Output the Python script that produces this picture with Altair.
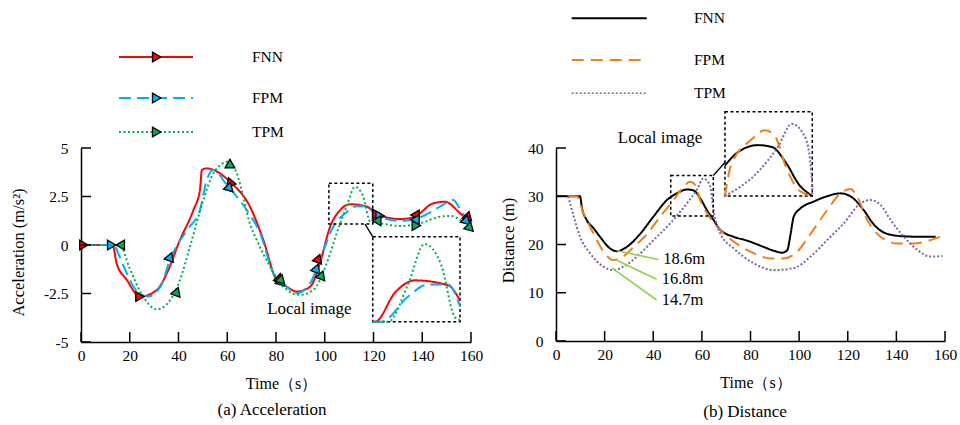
import altair as alt
import pandas as pd

FONT = "Liberation Serif, Times New Roman, DejaVu Serif, serif"
SERIES = ["FNN", "FPM", "TPM"]

# ---------------- (a) Acceleration data ----------------
acc_t_fnn = [0, 13, 14.6, 18.8, 24.2, 31.1, 35.2, 40.6, 46.1, 48.8, 49.6, 51.6, 57, 61.1, 69.3, 74.8,
             80.2, 84.4, 88.5, 94, 98, 102.2, 106.3, 110.4, 117.2, 121.3, 130.9, 136.4, 144.6, 149.4,
             155.6, 159.7]
acc_fnn = [0, 0, -0.94, -1.8, -2.66, -2.32, -1.46, 0.26, 1.8, 2.84, 3.87, 3.95, 3.69, 3.26, 1.98, 0.26,
           -1.8, -2.15, -2.4, -2.15, -0.94, 0.94, 1.8, 2.1, 1.98, 1.6, 1.34, 1.43, 2.15, 2.23, 1.63, 1.2]

acc_t_fpm = [0, 13.5, 15.5, 18.8, 22, 27.4, 32.6, 36.7, 43.5, 48.8, 51.6, 54.3, 59.8, 68, 73.5, 78.9,
             84.4, 88.5, 94, 98, 103.5, 109, 113, 117.2, 122.7, 130.9, 139.1, 147.3, 152.8, 154.9, 158.3]
acc_fpm = [0, 0, -0.5, -1.46, -2.23, -2.66, -2.15, -0.69, 0.77, 1.8, 3.35, 3.87, 3.1, 1.8, 0.6, -1.46,
           -2.15, -2.49, -1.97, -0.77, 0.94, 1.7, 2.0, 2.0, 1.46, 1.24, 1.43, 1.98, 2.32, 1.98, 1.29]

acc_t_tpm = [0, 16, 19.7, 25.5, 31.1, 36.6, 40.6, 44.7, 50.2, 54.3, 60.5, 63.9, 66.6, 68.8, 72.1, 77.6,
             83, 89.8, 95.3, 100.8, 104.9, 109, 112.4, 115.8, 118.6, 122.7, 130.9, 139.1, 147.3, 151.4,
             155.6, 159.7]
acc_tpm = [0, 0, -1.12, -2.66, -3.32, -2.84, -1.8, -0.09, 2.32, 3.69, 4.3, 3.69, 2.5, 1.3, 0.26, -1.12,
           -2.15, -2.57, -2.32, -0.94, 0.6, 2.01, 3.0, 2.49, 1.2, 1.12, 0.98, 1.12, 1.46, 1.5, 1.29, 0.86]

# triangle markers on the curves
mk_t_fnn = [1.2, 24.2, 61.1, 81.6, 97.4, 121.3, 137, 159]
mk_fnn = [0, -2.66, 3.26, -1.8, -0.69, 1.6, 1.55, 1.4]
mk_ang_fnn = [0, 0, 250, 45, 290, 0, 180, 45]
mk_t_fpm = [12.6, 36.6, 61.1, 82.3, 96.7, 122.7, 137, 158.3]
mk_fpm = [0, -0.6, 2.9, -1.95, -1.2, 1.5, 1.3, 1.2]
mk_ang_fpm = [0, 290, 45, 45, 290, 0, 180, 45]
mk_t_tpm = [16.1, 39.3, 61.1, 82.3, 98.7, 121.3, 137.6, 159.7]
mk_tpm = [0, -2.4, 4.2, -1.85, -1.55, 1.25, 1.0, 0.86]
mk_ang_tpm = [180, 290, 270, 45, 290, 180, 0, 45]

# ---------------- (b) Distance data ----------------
dist_t_fnn = [0, 9.9, 10.6, 12.6, 15.4, 18.1, 22.2, 25, 29.1, 34.6, 40.1, 45.6, 49.7, 53.8, 56.6, 59.3,
              62.1, 64.8, 67.6, 73.1, 78.6, 85.4, 89.6, 93, 95.1, 96.5, 97.8, 100.6, 106, 111.5, 117,
              121.1, 126.6, 130.8, 136.3, 143.1, 150, 156.2]
dist_fnn = [30, 30, 27.8, 25.1, 23.4, 21.6, 19.2, 18.6, 19.5, 22.2, 25.8, 29.2, 30.6, 31.4, 31.2, 29.6,
            27.1, 25.1, 23.0, 21.6, 20.8, 19.5, 18.7, 18.3, 18.8, 22.2, 25.8, 27.5, 28.9, 30, 30.6,
            30, 27.1, 24.1, 22.2, 21.7, 21.6, 21.6]

dist_t_fpm = [5, 8.5, 11.3, 15.4, 19.6, 23.5, 26.3, 32, 37.5, 42.9, 48.4, 52.5, 55.2, 57.3, 59.3, 62.1,
              66.2, 73.1, 81.3, 88.2, 93.7, 99.2, 104.7, 111.5, 117, 121.1, 123.8, 128, 133.5, 140.3,
              147.2, 154, 158]
dist_fpm = [30, 30, 26.5, 22.3, 18.5, 16.8, 17.1, 19.5, 22.2, 25.8, 29.2, 32, 33, 32.3, 29.2, 26.5,
            23.7, 20.6, 18.2, 17.1, 17.1, 18.5, 22.2, 27.1, 30.6, 31.5, 30, 25.1, 21.6, 20.2,
            20.2, 20.9, 21.6]

dist_t_tpm = [5, 7.3, 9.9, 14, 19.5, 23.7, 27.8, 33.3, 40.1, 47, 53.8, 57.9, 60.6, 63.4, 64.8, 67.6,
              73.1, 81.3, 89.6, 97.8, 104.7, 111.5, 118.4, 125.2, 129.4, 133.5, 137.6, 143.1, 148.6,
              154, 158.9]
dist_tpm = [30, 25.8, 21.6, 18.2, 15.4, 14.7, 15.4, 17.5, 20.9, 24.4, 28.5, 31.3, 33.7, 32.1, 27.1, 22.2,
            19.2, 16.1, 14.7, 15.1, 17.5, 20.9, 24.4, 28.5, 29.2, 28.2, 25.1, 21.6, 18.9,
            17.5, 17.6]

x_ticks = [0, 20, 40, 60, 80, 100, 120, 140, 160]
acc_ticks = [-5, -2.5, 0, 2.5, 5]
dist_ticks = [0, 10, 20, 30, 40]
min_labels = ["18.6m", "16.8m", "14.7m"]

# ---------------- styles / layout (not data) ----------------
acc_colors = ["#ff0000", "#00b0f0", "#00b050"]
acc_dash = [[1, 0], [12, 6], [2, 2.5]]
dist_colors = ["#000000", "#f07f1a", "#8064a2"]
dist_dash = [[1, 0], [12, 7], [2, 2]]
W1, H1 = 390, 194
W2, H2 = 389, 193
BOX_DASH = [3, 2.5]


def long_df(ts, vs):
    rows = []
    for s, tl, vl in zip(SERIES, ts, vs):
        for t, v in zip(tl, vl):
            rows.append({"series": s, "t": t, "v": v})
    return pd.DataFrame(rows)


def marker_df(ts, vs, angs):
    rows = []
    for s, tl, vl, al in zip(SERIES, ts, vs, angs):
        for t, v, a in zip(tl, vl, al):
            rows.append({"series": s, "t": t, "v": v, "ang": a})
    return pd.DataFrame(rows)


ONE = pd.DataFrame({"k": [0]})


def make_axes(W, H, ytitle, ytx, yty, yvals):
    xa = alt.Axis(values=x_ticks, ticks=False, tickSize=0, grid=False, domainColor="black",
                  domainWidth=1.5, labelFont=FONT, labelFontSize=15.5, labelColor="black",
                  labelPadding=6, labelFlush=False, labelOverlap=False,
                  title="Time（s）", titleFont=FONT, titleFontSize=16, titleFontWeight="normal",
                  titleColor="black", titleX=W / 2 + 5, titleY=41, titleBaseline="middle",
                  titleAlign="center")
    ya = alt.Axis(values=yvals, ticks=False, tickSize=0, grid=False, domainColor="black",
                  domainWidth=1.5, labelFont=FONT, labelFontSize=15.5, labelColor="black",
                  labelPadding=13, labelExpr='datum.value + ""', labelOverlap=False,
                  labelFlush=False,
                  title=ytitle, titleFont=FONT, titleFontSize=16.5, titleFontWeight="normal",
                  titleColor="black", titleX=ytx, titleY=yty, titleAngle=270,
                  titleAlign="center", titleBaseline="middle")
    return xa, ya


def panel(df, mk, W, H, ydom, yvals, ytitle, ytx, yty, colors, dashes, widths,
          src_box, ins_box, ins_vdom, connector, legend_pos, legend_marker, local_pos, caption,
          notes=None, anchor=False):
    xa, ya = make_axes(W, H, ytitle, ytx, yty, yvals)
    xs = alt.Scale(domain=[0, 160], nice=False, zero=False)
    ys = alt.Scale(domain=ydom, nice=False, zero=False)
    cs = alt.Scale(domain=SERIES, range=colors)
    ds = alt.Scale(domain=SERIES, range=dashes)
    ws = alt.Scale(domain=SERIES, range=widths)

    layers = []
    layers.append(
        alt.Chart(df).mark_line(interpolate="monotone").encode(
            x=alt.X("t:Q", scale=xs, axis=xa),
            y=alt.Y("v:Q", scale=ys, axis=ya),
            color=alt.Color("series:N", scale=cs, legend=None),
            strokeDash=alt.StrokeDash("series:N", scale=ds, legend=None),
            strokeWidth=alt.StrokeWidth("series:N", scale=ws, legend=None),
        )
    )
    if mk is not None:
        layers.append(
            alt.Chart(mk).mark_point(shape="triangle-right", filled=True, size=95, stroke="black",
                                     strokeWidth=1.3, opacity=1).encode(
                x=alt.X("t:Q", scale=xs, axis=xa),
                y=alt.Y("v:Q", scale=ys, axis=ya),
                fill=alt.Fill("series:N", scale=cs, legend=None),
                angle=alt.Angle("ang:Q", scale=None),
            )
        )
    # inward ticks
    layers.append(
        alt.Chart(pd.DataFrame({"t": x_ticks})).mark_rule(color="black", strokeWidth=1.5).encode(
            x=alt.X("t:Q", scale=xs, axis=xa), y=alt.value(H), y2=alt.value(H - 10))
    )
    layers.append(
        alt.Chart(pd.DataFrame({"v": yvals})).mark_rule(color="black", strokeWidth=1.5).encode(
            y=alt.Y("v:Q", scale=ys, axis=ya), x=alt.value(0), x2=alt.value(10))
    )
    # dashed boxes
    for (t0, t1, v0, v1) in [src_box, ins_box]:
        layers.append(
            alt.Chart(pd.DataFrame({"t": [t0], "t2": [t1], "v": [v0], "v2": [v1]})).mark_rect(
                fillOpacity=0, stroke="black", strokeWidth=1.5, strokeDash=BOX_DASH).encode(
                x=alt.X("t:Q", scale=xs, axis=xa), x2="t2:Q",
                y=alt.Y("v:Q", scale=ys, axis=ya), y2="v2:Q")
        )
    (ct0, cv0, ct1, cv1) = connector
    layers.append(
        alt.Chart(pd.DataFrame({"t": [ct0], "t2": [ct1], "v": [cv0], "v2": [cv1]})).mark_rule(
            color="black", strokeWidth=1.3).encode(
            x=alt.X("t:Q", scale=xs, axis=xa), x2="t2:Q",
            y=alt.Y("v:Q", scale=ys, axis=ya), y2="v2:Q")
    )
    # "Local image"
    layers.append(
        alt.Chart(pd.DataFrame({"t": [local_pos[0]], "v": [local_pos[1]], "s": ["Local image"]}))
        .mark_text(font=FONT, fontSize=17, color="black", align="center", baseline="middle")
        .encode(x=alt.X("t:Q", scale=xs, axis=xa), y=alt.Y("v:Q", scale=ys, axis=ya), text="s:N")
    )
    # min annotations
    if notes is not None:
        nt0, nv0, nt1, nv1 = notes
        ndf = pd.DataFrame({"t": nt0, "v": nv0, "t2": nt1, "v2": nv1, "s": min_labels})
        layers.append(
            alt.Chart(ndf).mark_rule(color="#92d050", strokeWidth=1.6).encode(
                x=alt.X("t:Q", scale=xs, axis=xa), x2="t2:Q",
                y=alt.Y("v:Q", scale=ys, axis=ya), y2="v2:Q")
        )
        layers.append(
            alt.Chart(ndf).mark_text(font=FONT, fontSize=16.5, color="black", align="left",
                                     baseline="middle", dx=5).encode(
                x=alt.X("t2:Q", scale=xs, axis=xa),
                y=alt.Y("v2:Q", scale=ys, axis=ya), text="s:N")
        )
    # custom legend
    lx0, lx1, ltx, lys = legend_pos
    for s, c, d, w, ly in zip(SERIES, colors, dashes, widths, lys):
        layers.append(
            alt.Chart(ONE).mark_rule(color=c, strokeDash=d, strokeWidth=w).encode(
                x=alt.value(lx0), x2=alt.value(lx1), y=alt.value(ly))
        )
        if legend_marker is not None:
            layers.append(
                alt.Chart(ONE).mark_point(shape="triangle-right", filled=True, size=95,
                                          fill=c, stroke="black", strokeWidth=1.3, opacity=1)
                .encode(x=alt.value(legend_marker), y=alt.value(ly))
            )
        layers.append(
            alt.Chart(pd.DataFrame({"s": [s]})).mark_text(font=FONT, fontSize=15.5, color="black",
                                                          align="left", baseline="middle")
            .encode(x=alt.value(ltx), y=alt.value(ly), text="s:N")
        )
    # caption
    layers.append(
        alt.Chart(pd.DataFrame({"s": [caption[0]]})).mark_text(font=FONT, fontSize=17, color="black",
                                                               align="center", baseline="middle")
        .encode(x=alt.value(caption[1]), y=alt.value(caption[2]), text="s:N")
    )
    if anchor:
        layers.append(
            alt.Chart(ONE).mark_rect(opacity=0).encode(
                x=alt.value(-81), x2=alt.value(-80), y=alt.value(-148), y2=alt.value(-147))
        )
    main = alt.layer(*layers)

    # magnified inset drawn through its own scales
    t0, t1, v0, v1 = src_box
    it0, it1, iv0, iv1 = ins_box
    xr = [it0 / 160 * W, it1 / 160 * W]
    lo_iv, hi_iv = min(iv0, iv1), max(iv0, iv1)
    yr = [(ydom[1] - lo_iv) / (ydom[1] - ydom[0]) * H, (ydom[1] - hi_iv) / (ydom[1] - ydom[0]) * H]
    inset = alt.Chart(df).transform_filter(
        alt.FieldRangePredicate(field="t", range=[t0 - 5, t1 + 5])
    ).mark_line(interpolate="monotone").encode(
        x=alt.X("t:Q", scale=alt.Scale(domain=[t0, t1], range=xr, clamp=True, nice=False, zero=False),
                axis=None),
        y=alt.Y("v:Q", scale=alt.Scale(domain=ins_vdom, range=yr, clamp=True, nice=False,
                                       zero=False), axis=None),
        color=alt.Color("series:N", scale=cs, legend=None),
        strokeDash=alt.StrokeDash("series:N", scale=ds, legend=None),
        strokeWidth=alt.StrokeWidth("series:N", scale=ws, legend=None),
    )
    return alt.layer(main, inset).resolve_scale(x="independent", y="independent").properties(
        width=W, height=H)


acc_df = long_df([acc_t_fnn, acc_t_fpm, acc_t_tpm], [acc_fnn, acc_fpm, acc_tpm])
acc_mk = marker_df([mk_t_fnn, mk_t_fpm, mk_t_tpm], [mk_fnn, mk_fpm, mk_tpm],
                   [mk_ang_fnn, mk_ang_fpm, mk_ang_tpm])
dist_df = long_df([dist_t_fnn, dist_t_fpm, dist_t_tpm], [dist_fnn, dist_fpm, dist_tpm])

left = panel(
    acc_df, acc_mk, W1, H1, [-5, 5], acc_ticks, "Acceleration (m/s²)", -63, 104,
    acc_colors, acc_dash, [2, 2, 2],
    src_box=(101.7, 119.7, 1.08, 3.18), ins_box=(119.7, 155.5, -3.95, 0.43),
    ins_vdom=[1.08, 3.18],
    connector=(116.5, 1.08, 119.7, 0.43),
    legend_pos=(38, 112, 171, [-91, -50, -16]), legend_marker=75.7,
    local_pos=(93.7, -3.3), caption=("(a) Acceleration", 191, 262), anchor=True,
)

right = panel(
    dist_df, None, W2, H2, [0, 40], dist_ticks, "Distance (m)", -48, 92,
    dist_colors, dist_dash, [2, 2, 1.6],
    src_box=(47.2, 64.7, 25.9, 34.3), ins_box=(69.5, 105.4, 30.05, 47.5),
    ins_vdom=[25.9, 35.0],
    connector=(64.7, 34.3, 69.5, 37.0),
    legend_pos=(15.7, 90.7, 138, [-129.7, -88, -54.7]), legend_marker=None,
    local_pos=(42.8, 42.1), caption=("(b) Distance", 189, 264),
    notes=([25, 24.3, 23.1], [18.7, 16.9, 15.1], [42.1, 41.4, 41.4], [16.9, 12.8, 8.5]),
)

chart = alt.hconcat(left, right, spacing=85, bounds="flush").resolve_scale(
    color="independent", strokeDash="independent", strokeWidth="independent", fill="independent"
).properties(
    padding=0, background="white"
).configure_view(stroke=None).configure_axis(
    labelFont=FONT, titleFont=FONT
).configure_text(font=FONT)

chart.save("out.html", embed_options={"renderer": "svg", "actions": False})
